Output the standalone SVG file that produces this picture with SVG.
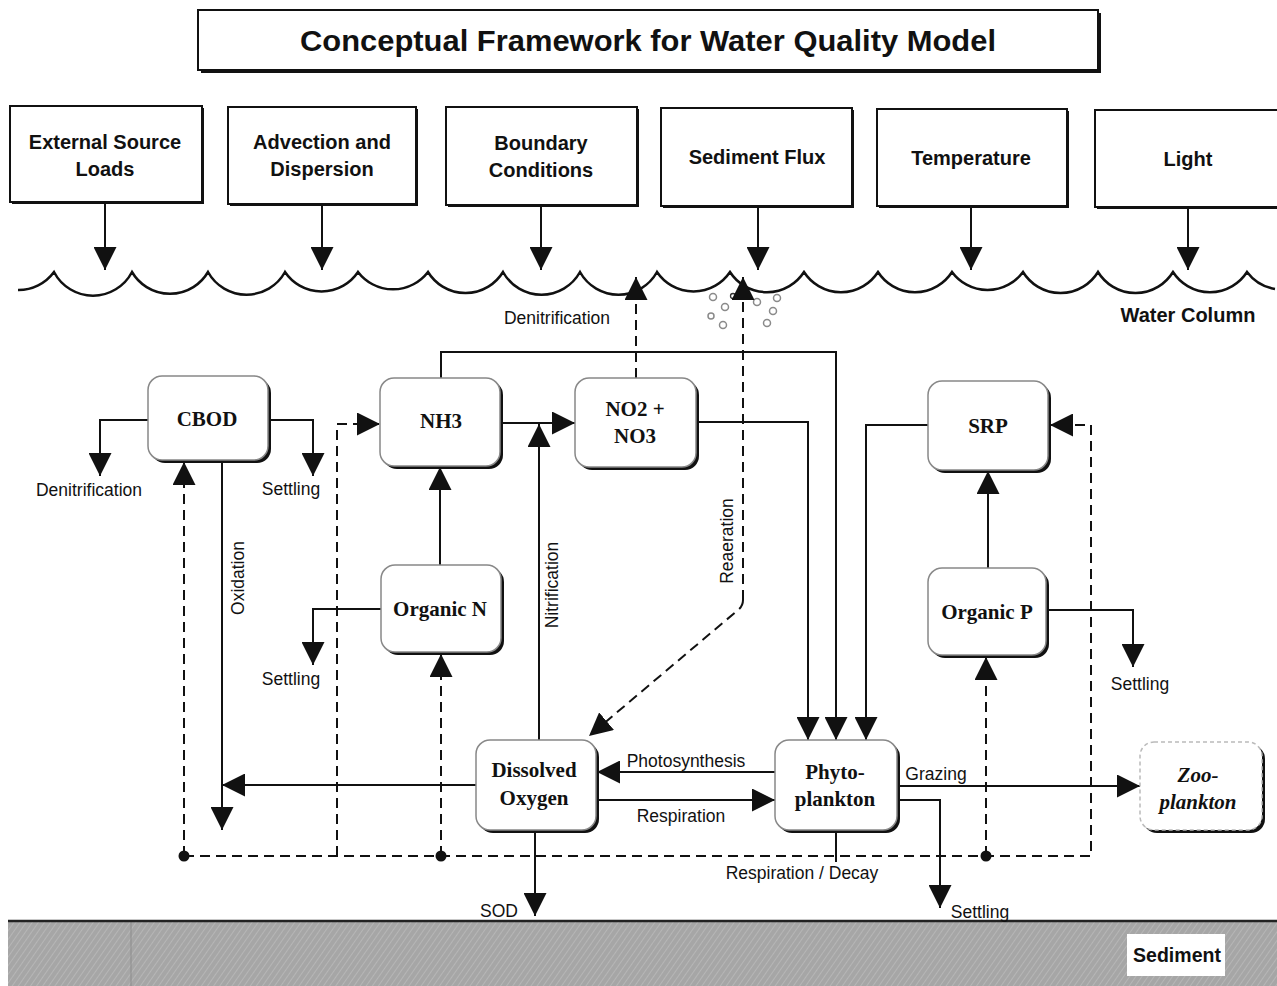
<svg xmlns="http://www.w3.org/2000/svg" width="1277" height="986" viewBox="0 0 1277 986">
<defs>
<marker id="ah" markerUnits="userSpaceOnUse" markerWidth="24" markerHeight="23" refX="23" refY="11.5" orient="auto" viewBox="0 0 24 23">
  <path d="M0,0 L23,11.5 L0,23 z" fill="#111"/>
</marker>
<pattern id="sed" width="5" height="5" patternUnits="userSpaceOnUse" patternTransform="rotate(35)">
  <rect width="5" height="5" fill="#a6a6a6"/>
  <line x1="0" y1="0" x2="0" y2="5" stroke="#c2c2c2" stroke-width="1.2"/>
</pattern>
</defs>
<style>
 .box{fill:#fff;stroke:#111;stroke-width:2}
 .sh{fill:#111}
 .nbox{fill:#fff;stroke:#888;stroke-width:1.5}
 .tb{font-family:"Liberation Sans",Arial,sans-serif;font-weight:bold;font-size:20px;fill:#111;text-anchor:middle}
 .node{font-family:"Liberation Serif","Times New Roman",serif;font-weight:bold;font-size:21px;fill:#111;text-anchor:middle}
 .lbl{font-family:"Liberation Sans",Arial,sans-serif;font-size:17.5px;fill:#111;text-anchor:middle}
 .ln{fill:none;stroke:#111;stroke-width:2}
 .dl{fill:none;stroke:#111;stroke-width:2;stroke-dasharray:10 6}
 .bub{fill:none;stroke:#8a8a8a;stroke-width:1.5}
</style>
<rect width="1277" height="986" fill="#fff"/>

<g id="title">
  <rect x="201" y="13" width="900" height="60" class="sh"/>
  <rect x="198" y="10" width="900" height="60" class="box"/>
  <text x="648" y="51" class="tb" style="font-size:29px" textLength="696" lengthAdjust="spacingAndGlyphs">Conceptual Framework for Water Quality Model</text>
</g>

<g id="ext-source">
  <rect x="12" y="108" width="192" height="96" class="sh"/>
  <rect x="10" y="106" width="192" height="96" class="box"/>
  <text x="105" y="149" class="tb">External Source</text>
  <text x="105" y="176" class="tb">Loads</text>
</g>
<g id="advection">
  <rect x="230" y="109" width="188" height="97" class="sh"/>
  <rect x="228" y="107" width="188" height="97" class="box"/>
  <text x="322" y="149" class="tb">Advection and</text>
  <text x="322" y="176" class="tb">Dispersion</text>
</g>
<g id="boundary">
  <rect x="448" y="109" width="191" height="98" class="sh"/>
  <rect x="446" y="107" width="191" height="98" class="box"/>
  <text x="541" y="150" class="tb">Boundary</text>
  <text x="541" y="177" class="tb">Conditions</text>
</g>
<g id="sediment-flux">
  <rect x="663" y="110" width="191" height="98" class="sh"/>
  <rect x="661" y="108" width="191" height="98" class="box"/>
  <text x="757" y="164" class="tb">Sediment Flux</text>
</g>
<g id="temperature">
  <rect x="879" y="111" width="190" height="97" class="sh"/>
  <rect x="877" y="109" width="190" height="97" class="box"/>
  <text x="971" y="165" class="tb">Temperature</text>
</g>
<g id="light">
  <rect x="1097" y="112" width="190" height="97" class="sh"/>
  <rect x="1095" y="110" width="190" height="97" class="box"/>
  <text x="1188" y="166" class="tb">Light</text>
</g>

<g id="water-surface">
  <path class="ln" style="stroke-width:2.5" d="M18,290 A44,44 0 0 0 54,272 A44,44 0 0 0 132,272 A44,44 0 0 0 208,272 A44,44 0 0 0 285,272 A44,44 0 0 0 358,272 A44,44 0 0 0 428,272 A44,44 0 0 0 503,272 A44,44 0 0 0 580,272 A44,44 0 0 0 657,272 A44,44 0 0 0 730,272 A44,44 0 0 0 804,272 A44,44 0 0 0 878,272 A44,44 0 0 0 952,272 A44,44 0 0 0 1023,272 A44,44 0 0 0 1098,272 A44,44 0 0 0 1173,272 A44,44 0 0 0 1247,272 A44,44 0 0 0 1275,289"/>
  <text x="1188" y="322" class="tb">Water Column</text>
  <g id="bubbles">
    <circle cx="713" cy="297" r="3.5" class="bub"/>
    <circle cx="733" cy="296" r="2.5" fill="none" stroke="#333" stroke-width="1.3"/>
    <circle cx="757" cy="302" r="3.5" class="bub"/>
    <circle cx="777" cy="298" r="3.5" class="bub"/>
    <circle cx="725" cy="307" r="3.5" class="bub"/>
    <circle cx="773" cy="311" r="3.5" class="bub"/>
    <circle cx="711" cy="316" r="3" class="bub"/>
    <circle cx="723" cy="325" r="3.5" class="bub"/>
    <circle cx="767" cy="323" r="3.5" class="bub"/>
  </g>
</g>

<g id="sediment">
  <rect x="8" y="921" width="1269" height="65" fill="url(#sed)"/>
  <line x1="131" y1="922" x2="131" y2="986" stroke="#8c8c8c" stroke-width="1"/>
  <line x1="8" y1="921" x2="1277" y2="921" stroke="#222" stroke-width="2.5"/>
  <rect x="1127" y="934" width="98" height="42" fill="#fff"/>
  <text x="1177" y="962" class="tb" style="font-size:19.5px">Sediment</text>
</g>

<g id="connectors">
  <path class="ln" marker-end="url(#ah)" d="M105,202 L105,270"/>
  <path class="ln" marker-end="url(#ah)" d="M322,204 L322,270"/>
  <path class="ln" marker-end="url(#ah)" d="M541,205 L541,270"/>
  <path class="ln" marker-end="url(#ah)" d="M758,206 L758,270"/>
  <path class="ln" marker-end="url(#ah)" d="M971,206 L971,270"/>
  <path class="ln" marker-end="url(#ah)" d="M1188,207 L1188,270"/>

  <path class="dl" marker-end="url(#ah)" d="M636,378 L636,277"/>
  <path class="dl" marker-end="url(#ah)" d="M743,600 L743,277"/>
  <path class="dl" marker-end="url(#ah)" d="M743,600 Q743,606 738,610 L589,736"/>

  <path class="ln" marker-end="url(#ah)" d="M148,420 L100,420 L100,476"/>
  <path class="ln" marker-end="url(#ah)" d="M268,420 L313,420 L313,476"/>
  <path class="dl" marker-end="url(#ah)" d="M184,856 L184,462"/>
  <path class="ln" marker-end="url(#ah)" d="M222,460 L222,830"/>
  <path class="ln" marker-end="url(#ah)" d="M476,785 L222,785"/>

  <path class="dl" marker-end="url(#ah)" d="M184,856 L1091,856 L1091,425 L1050,425"/>
  <path class="dl" marker-end="url(#ah)" d="M337,856 L337,424 L380,424"/>
  <path class="dl" marker-end="url(#ah)" d="M441,856 L441,654"/>
  <path class="dl" marker-end="url(#ah)" d="M986,856 L986,657"/>
  <circle cx="184" cy="856" r="5.5" fill="#111"/>
  <circle cx="441" cy="856" r="5.5" fill="#111"/>
  <circle cx="986" cy="856" r="5.5" fill="#111"/>
  <path class="ln" d="M836,830 L836,862"/>

  <path class="ln" marker-end="url(#ah)" d="M441,378 L441,352 L836,352 L836,740"/>
  <path class="ln" marker-end="url(#ah)" d="M696,422 L808,422 L808,740"/>
  <path class="ln" marker-end="url(#ah)" d="M928,425 L866,425 L866,740"/>
  <path class="ln" marker-end="url(#ah)" d="M500,423 L575,423"/>
  <path class="ln" marker-end="url(#ah)" d="M539,740 L539,424"/>
  <path class="ln" marker-end="url(#ah)" d="M440,565 L440,467"/>
  <path class="ln" marker-end="url(#ah)" d="M381,609 L313,609 L313,665"/>
  <path class="ln" marker-end="url(#ah)" d="M988,568 L988,471"/>
  <path class="ln" marker-end="url(#ah)" d="M1046,610 L1133,610 L1133,667"/>
  <path class="ln" marker-end="url(#ah)" d="M775,772 L597,772"/>
  <path class="ln" marker-end="url(#ah)" d="M597,800 L775,800"/>
  <path class="ln" marker-end="url(#ah)" d="M897,786 L1140,786"/>
  <path class="ln" marker-end="url(#ah)" d="M897,800 L940,800 L940,908"/>
  <path class="ln" marker-end="url(#ah)" d="M535,830 L535,916"/>

  <text x="557" y="324" class="lbl">Denitrification</text>
  <text x="89" y="496" class="lbl">Denitrification</text>
  <text x="291" y="495" class="lbl">Settling</text>
  <text x="291" y="685" class="lbl">Settling</text>
  <text x="1140" y="690" class="lbl">Settling</text>
  <text x="686" y="767" class="lbl">Photosynthesis</text>
  <text x="681" y="822" class="lbl">Respiration</text>
  <text x="936" y="780" class="lbl">Grazing</text>
  <text x="802" y="879" class="lbl">Respiration / Decay</text>
  <text x="980" y="918" class="lbl">Settling</text>
  <text x="499" y="917" class="lbl">SOD</text>
  <text transform="translate(244,578) rotate(-90)" class="lbl">Oxidation</text>
  <text transform="translate(558,585) rotate(-90)" class="lbl">Nitrification</text>
  <text transform="translate(733,541) rotate(-90)" class="lbl">Reaeration</text>
</g>

<g id="cbod">
  <rect x="151" y="379" width="120" height="84" rx="14" class="sh"/>
  <rect x="148" y="376" width="120" height="84" rx="14" class="nbox"/>
  <text x="207" y="426" class="node">CBOD</text>
</g>
<g id="nh3">
  <rect x="383" y="381" width="120" height="88" rx="14" class="sh"/>
  <rect x="380" y="378" width="120" height="88" rx="14" class="nbox"/>
  <text x="441" y="428" class="node">NH3</text>
</g>
<g id="no2-no3">
  <rect x="578" y="381" width="121" height="89" rx="14" class="sh"/>
  <rect x="575" y="378" width="121" height="89" rx="14" class="nbox"/>
  <text x="635" y="416" class="node">NO2 +</text>
  <text x="635" y="443" class="node">NO3</text>
</g>
<g id="srp">
  <rect x="931" y="384" width="120" height="89" rx="14" class="sh"/>
  <rect x="928" y="381" width="120" height="89" rx="14" class="nbox"/>
  <text x="988" y="433" class="node">SRP</text>
</g>
<g id="organic-n">
  <rect x="384" y="568" width="120" height="87" rx="14" class="sh"/>
  <rect x="381" y="565" width="120" height="87" rx="14" class="nbox"/>
  <text x="440" y="616" class="node">Organic N</text>
</g>
<g id="organic-p">
  <rect x="931" y="571" width="118" height="87" rx="14" class="sh"/>
  <rect x="928" y="568" width="118" height="87" rx="14" class="nbox"/>
  <text x="987" y="619" class="node">Organic P</text>
</g>
<g id="dissolved-oxygen">
  <rect x="479" y="743" width="120" height="90" rx="14" class="sh"/>
  <rect x="476" y="740" width="120" height="90" rx="14" class="nbox"/>
  <text x="534" y="777" class="node">Dissolved</text>
  <text x="534" y="805" class="node">Oxygen</text>
</g>
<g id="phytoplankton">
  <rect x="778" y="743" width="122" height="90" rx="14" class="sh"/>
  <rect x="775" y="740" width="122" height="90" rx="14" class="nbox"/>
  <text x="835" y="779" class="node">Phyto-</text>
  <text x="835" y="806" class="node">plankton</text>
</g>
<g id="zooplankton">
  <rect x="1143" y="745" width="122" height="88" rx="14" class="sh"/>
  <rect x="1140" y="742" width="122" height="88" rx="14" fill="#fff" stroke="#bbb" stroke-width="1.5" stroke-dasharray="4 3"/>
  <text x="1198" y="782" class="node" style="font-style:italic">Zoo-</text>
  <text x="1198" y="809" class="node" style="font-style:italic">plankton</text>
</g>
</svg>
